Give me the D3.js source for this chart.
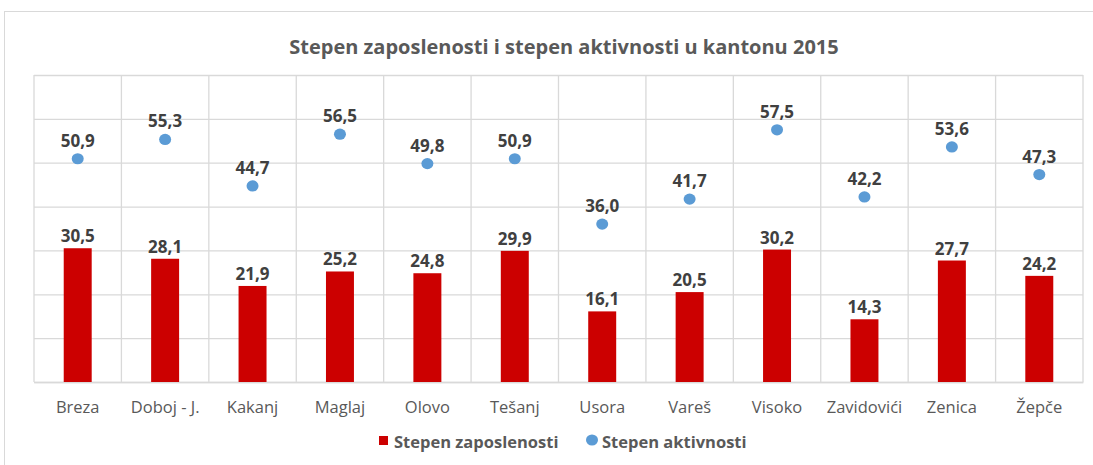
<!DOCTYPE html>
<html>
<head>
<meta charset="utf-8">
<script src="https://cdn.jsdelivr.net/npm/d3@7"></script>
<style>
  body { margin: 0; background: #fff; }
  svg { display: block; font-family: 'Open Sans', sans-serif; }
</style>
</head>
<body>
<svg id="mainsvg" width="1093" height="465"></svg>
<script>
const categories = ['Breza', 'Doboj - J.', 'Kakanj', 'Maglaj', 'Olovo', 'Tešanj', 'Usora', 'Vareš', 'Visoko', 'Zavidovići', 'Zenica', 'Žepče'];
const zaposlenost = [30.5, 28.1, 21.9, 25.2, 24.8, 29.9, 16.1, 20.5, 30.2, 14.3, 27.7, 24.2];
const aktivnost = [50.9, 55.3, 44.7, 56.5, 49.8, 50.9, 36.0, 41.7, 57.5, 42.2, 53.6, 47.3];
const yTicks = [0, 10, 20, 30, 40, 50, 60, 70];
const seriesNames = ['Stepen zaposlenosti', 'Stepen aktivnosti'];

const svg = d3.select('#mainsvg');
const margin = { top: 75, left: 34, right: 10, bottom: 83 };
const width = +svg.attr('width');
const height = +svg.attr('height');
const innerWidth = 1083 - margin.left;
const innerHeight = height - margin.top - margin.bottom;

const fmt = v => d3.format('.1f')(v).replace('.', ',');

// okvir grafikona
svg.append('rect')
    .attr('x', 4.5).attr('y', 11.5)
    .attr('width', width + 10).attr('height', height)
    .attr('fill', 'none').attr('stroke', '#d9d9d9');

const xScale = d3.scaleBand()
    .domain(categories)
    .range([0, innerWidth])
    .paddingInner(0)
    .paddingOuter(0);

const yScale = d3.scaleLinear()
    .domain([0, 70])
    .range([innerHeight, 0]);

const g = svg.append('g')
    .attr('transform', `translate(${margin.left}, ${margin.top})`);

// horizontalne linije
const yAxis = d3.axisLeft(yScale).tickValues(yTicks).tickSize(-innerWidth).tickFormat('');
g.append('g').call(yAxis)
    .call(a => a.select('.domain').remove())
    .selectAll('line').attr('stroke', '#d9d9d9').attr('stroke-width', 1.3);

// vertikalne linije
const bounds = categories.map(c => xScale(c)).concat([innerWidth]);
g.append('g').selectAll('line').data(bounds).join('line')
    .attr('x1', d => d).attr('x2', d => d)
    .attr('y1', 0).attr('y2', innerHeight)
    .attr('stroke', '#d9d9d9').attr('stroke-width', 1.3);

// x osa
const xAxis = d3.axisBottom(xScale).tickSize(0).tickPadding(19);
g.append('g').attr('transform', `translate(0, ${innerHeight})`).call(xAxis)
    .call(a => a.select('.domain').attr('stroke', '#d9d9d9').attr('stroke-width', 1.5))
    .selectAll('text')
    .attr('font-family', 'Open Sans, sans-serif')
    .attr('font-size', '16.5px')
    .attr('fill', '#595959');

const barW = xScale.bandwidth() * 0.32;

g.selectAll('.bar').data(zaposlenost).join('rect')
    .attr('class', 'bar')
    .attr('x', (d, i) => xScale(categories[i]) + xScale.bandwidth() / 2 - barW / 2)
    .attr('y', d => yScale(d))
    .attr('width', barW)
    .attr('height', d => innerHeight - yScale(d))
    .attr('fill', '#cc0000');

g.selectAll('.barlabel').data(zaposlenost).join('text')
    .attr('class', 'barlabel')
    .attr('x', (d, i) => xScale(categories[i]) + xScale.bandwidth() / 2)
    .attr('y', d => yScale(d) - 6)
    .attr('text-anchor', 'middle')
    .attr('font-size', '17px')
    .attr('font-weight', 'bold')
    .attr('fill', '#404040')
    .text(fmt);

g.selectAll('.dot').data(aktivnost).join('ellipse')
    .attr('class', 'dot')
    .attr('cx', (d, i) => xScale(categories[i]) + xScale.bandwidth() / 2)
    .attr('cy', d => yScale(d))
    .attr('rx', 6).attr('ry', 5.6)
    .attr('fill', '#5b9bd5');

g.selectAll('.dotlabel').data(aktivnost).join('text')
    .attr('class', 'dotlabel')
    .attr('x', (d, i) => xScale(categories[i]) + xScale.bandwidth() / 2)
    .attr('y', d => yScale(d) - 12)
    .attr('text-anchor', 'middle')
    .attr('font-size', '17px')
    .attr('font-weight', 'bold')
    .attr('fill', '#404040')
    .text(fmt);

// naslov
svg.append('text')
    .attr('x', 564).attr('y', 54)
    .attr('text-anchor', 'middle')
    .attr('font-size', '20px')
    .attr('font-weight', 'bold')
    .attr('fill', '#595959')
    .text('Stepen zaposlenosti i stepen aktivnosti u kantonu 2015');

// legenda
const lg = svg.append('g');
lg.append('rect').attr('x', 379).attr('y', 436).attr('width', 9).attr('height', 9).attr('fill', '#cc0000');
lg.append('text').attr('x', 394).attr('y', 448).attr('font-size', '16.5px').attr('font-weight', 'bold')
    .attr('fill', '#595959').text(seriesNames[0]);
lg.append('ellipse').attr('cx', 592).attr('cy', 440).attr('rx', 6).attr('ry', 5.6).attr('fill', '#5b9bd5');
lg.append('text').attr('x', 602).attr('y', 448).attr('font-size', '16.5px').attr('font-weight', 'bold')
    .attr('fill', '#595959').text(seriesNames[1]);
</script>
</body>
</html>
